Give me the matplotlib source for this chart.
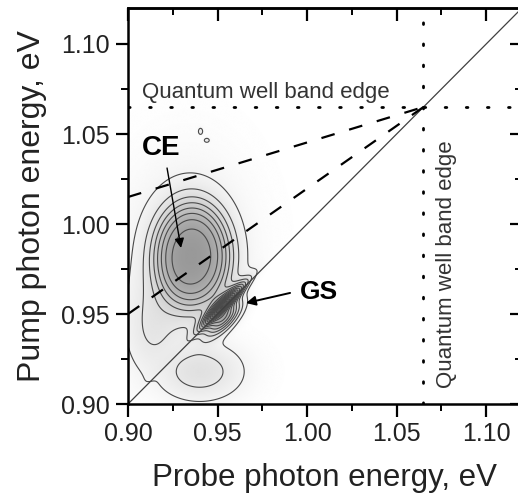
import numpy as np
import matplotlib
matplotlib.use('Agg')
import matplotlib.pyplot as plt
from matplotlib.ticker import MultipleLocator

plt.rcParams['font.family'] = ['Liberation Sans', 'DejaVu Sans']

# axis range and band edge (eV)
e_min, e_max = 0.90, 1.12
band_edge = 1.065
# dashed guide lines start on the left edge at these pump energies
dash_start = [1.015, 0.950]

# broad CE plateau: centre, outer half widths, amplitude, edge radius and softness
ce_x0, ce_y0 = 0.936, 0.982
ce_rx, ce_ry = 0.027, 0.038
ce_amp = 0.37
ce_edge, ce_soft = 0.715, 0.15

# smaller peaks above the diagonal (pump > probe): x0, y0, sigma_a, sigma_b, angle(deg), amplitude
upper_x0 = [0.933, 0.955, 0.913, 0.9405, 0.9440]
upper_y0 = [0.984, 0.953, 0.940, 1.0515, 1.0465]
upper_sa = [0.025, 0.011, 0.011, 0.0009, 0.0010]
upper_sb = [0.038, 0.0035, 0.020, 0.0013, 0.0008]
upper_ang = [0, 45, 0, 0, 0]
upper_amp = [0.075, 1.00, 0.08, 0.08, 0.08]

# peaks below the diagonal
lower_x0 = [0.940, 0.953]
lower_y0 = [0.918, 0.948]
lower_sa = [0.018, 0.009]
lower_sb = [0.012, 0.004]
lower_ang = [0, 45]
lower_amp = [0.13, 0.35]

levels = np.arange(0.05, 1.0, 0.05)


def gauss(X, Y, x0, y0, sa, sb, ang, amp):
    t = np.deg2rad(ang)
    u = (X - x0) * np.cos(t) + (Y - y0) * np.sin(t)
    v = -(X - x0) * np.sin(t) + (Y - y0) * np.cos(t)
    return amp * np.exp(-0.5 * ((u / sa) ** 2 + (v / sb) ** 2))


e = np.linspace(e_min, e_max, 700)
X, Y = np.meshgrid(e, e)
r = np.hypot((X - ce_x0) / ce_rx, (Y - ce_y0) / ce_ry)
upper = ce_amp / (1 + np.exp((r - ce_edge) / ce_soft))
upper = upper + sum(gauss(X, Y, *p) for p in zip(upper_x0, upper_y0, upper_sa, upper_sb,
                                                  upper_ang, upper_amp))
lower = sum(gauss(X, Y, *p) for p in zip(lower_x0, lower_y0, lower_sa, lower_sb,
                                         lower_ang, lower_amp))
mask = 1 / (1 + np.exp(-(Y - X) / 0.0015))
Z = upper * mask + lower * (1 - mask) ** 0.3

fig = plt.figure(figsize=(5.18, 4.98), dpi=100)
ax = fig.add_axes([128 / 518, 94 / 498, 394 / 518, 396 / 498])

ax.imshow(Z, extent=[e_min, e_max, e_min, e_max], origin='lower', cmap='gray_r',
          vmin=0, vmax=1.1, aspect='auto', interpolation='bilinear')
ax.contour(X, Y, Z, levels=levels, colors='#4a4a4a', linewidths=0.8)

# diagonal, dashed guides and band edges
ax.plot([e_min, e_max], [e_min, e_max], color='#404040', lw=0.9)
for y0 in dash_start:
    ax.plot([e_min, band_edge], [y0, band_edge], color='black', lw=1.6,
            linestyle=(0, (6.2, 6.8)))
dot = (0, (0.6, 7.0))
ax.plot([e_min, e_max], [band_edge, band_edge], color='black', lw=2.0, linestyle=dot,
        dash_capstyle='round')
ax.plot([band_edge, band_edge], [e_min, e_max], color='black', lw=2.0, linestyle=dot,
        dash_capstyle='round')

ax.text(0.908, 1.0675, 'Quantum well band edge', fontsize=16, color='#333333',
        ha='left', va='bottom')
ax.text(1.0778, 0.909, 'Quantum well band edge', fontsize=16, color='#333333',
        rotation=90, ha='center', va='bottom')

ax.annotate('', xy=(0.9296, 0.9867), xytext=(0.9218, 1.0311),
            arrowprops=dict(arrowstyle='-|>', color='black', lw=1.0,
                            mutation_scale=14, shrinkA=0, shrinkB=0))
ax.text(0.9184, 1.0425, 'CE', fontsize=20, fontweight='bold', ha='center', va='center')
ax.annotate('', xy=(0.9659, 0.9561), xytext=(0.9905, 0.9617),
            arrowprops=dict(arrowstyle='-|>', color='black', lw=1.4,
                            mutation_scale=14, shrinkA=0, shrinkB=0))
ax.text(1.0065, 0.9625, 'GS', fontsize=19, fontweight='bold', ha='center', va='center')

ax.set_xlim(e_min, e_max)
ax.set_ylim(e_min, e_max)
for a in (ax.xaxis, ax.yaxis):
    a.set_major_locator(MultipleLocator(0.05))
    a.set_minor_locator(MultipleLocator(0.025))
    a.set_major_formatter('{x:.2f}')
ax.tick_params(which='major', direction='out', length=9, width=1.6, labelsize=18,
               colors='black', labelcolor='#222222', pad=4)
ax.tick_params(which='minor', direction='out', length=5, width=1.4)
for s in ax.spines.values():
    s.set_linewidth(1.8)

# inward ticks on the top and right spines
top = ax.secondary_xaxis('top')
right = ax.secondary_yaxis('right')
for sec, a in ((top, top.xaxis), (right, right.yaxis)):
    a.set_major_locator(MultipleLocator(0.05))
    a.set_minor_locator(MultipleLocator(0.025))
    sec.tick_params(which='major', direction='in', length=9, width=1.6,
                    labeltop=False, labelright=False)
    sec.tick_params(which='minor', direction='in', length=5, width=1.4)
    for s in sec.spines.values():
        s.set_linewidth(1.8)

ax.set_xlabel('Probe photon energy, eV', fontsize=22.5, color='#222222', labelpad=12)
ax.set_ylabel('Pump photon energy, eV', fontsize=23, color='#222222', labelpad=10)

fig.savefig('out.png', dpi=100)
